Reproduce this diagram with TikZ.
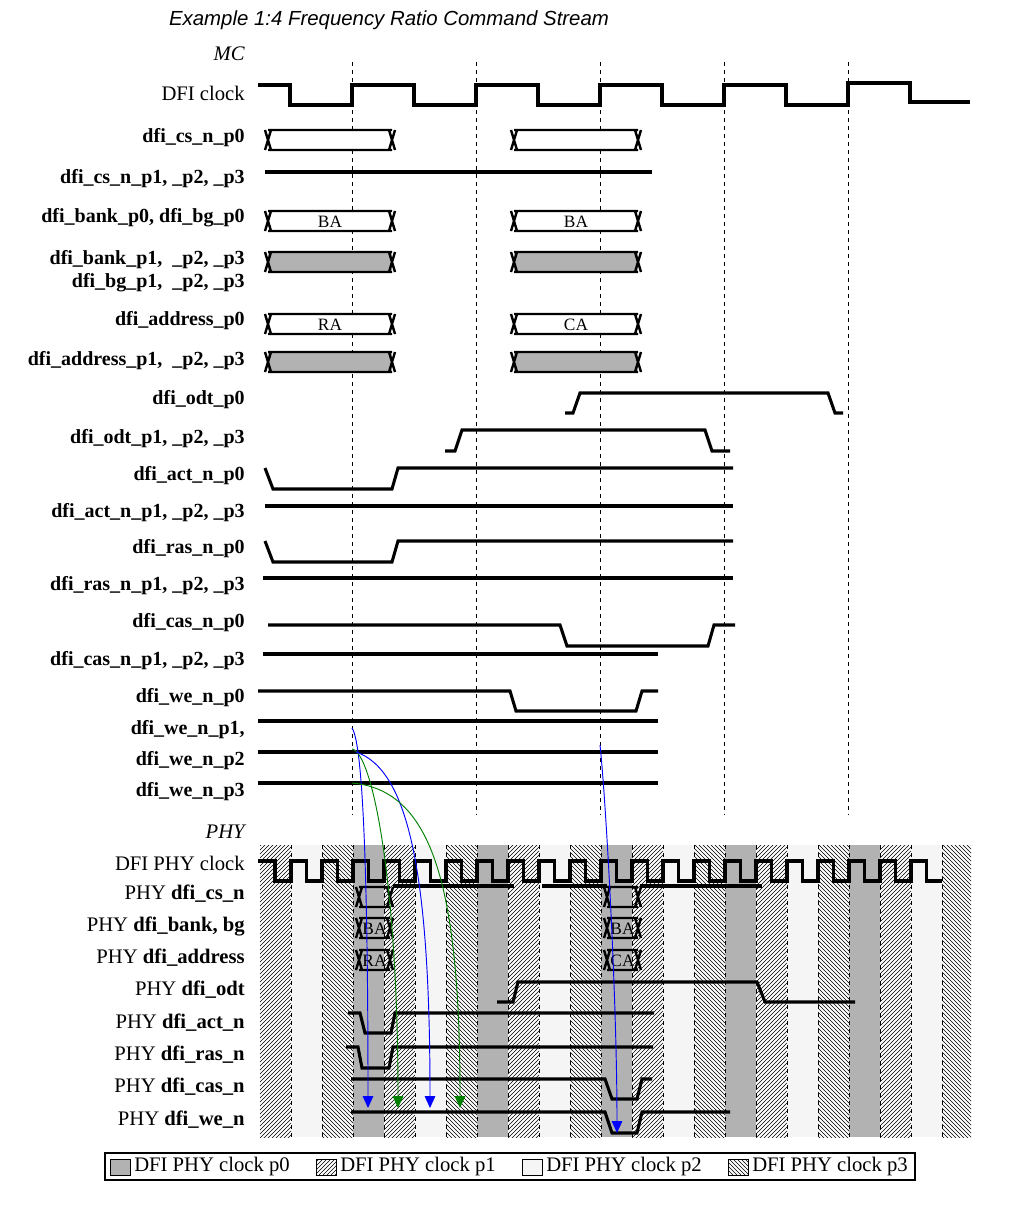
\documentclass[tikz,border=0pt]{standalone}
\usepackage{fontspec}
\setmainfont{Liberation Serif}
\newfontfamily\titlefont{Liberation Sans}
\usetikzlibrary{patterns,arrows.meta}
\tikzset{
  sig/.style={line width=2.3pt,line cap=butt,line join=miter},
  lbl/.style={anchor=east,inner sep=0pt,font=\fontsize{15}{15}\selectfont\bfseries},
  nlbl/.style={anchor=east,inner sep=0pt,font=\fontsize{15.5}{16}\selectfont},
  grid/.style={dashed,line width=0.6pt},
  flow/.style={-{Triangle[length=9pt,width=8pt]},line width=0.7pt},
}
% bus box with crossing ends: x1, x2, mid y, half height, fill, text
\newcommand{\busbox}[6]{%
  \path[fill=#5] (#1+3,#3-#4) rectangle (#2-3,#3+#4);
  \draw[line width=1.8pt] (#1+3,#3-#4) -- (#2-3,#3-#4) (#1+3,#3+#4) -- (#2-3,#3+#4)
    (#1,#3-#4) -- (#1+6,#3+#4) (#1,#3+#4) -- (#1+6,#3-#4)
    (#2-6,#3-#4) -- (#2,#3+#4) (#2-6,#3+#4) -- (#2,#3-#4);
  \node[font=\fontsize{13}{13}\selectfont,inner sep=0pt] at ({(#1+#2)/2},#3+1) {#6};}
\begin{document}
\begin{tikzpicture}[x=0.75pt,y=-0.75pt]
\useasboundingbox (0,0) rectangle (1030,1214);
% title and sections
\node[font=\titlefont\itshape\fontsize{15.3}{16}\selectfont] (title) at (389,20) {Example 1:4 Frequency Ratio Command Stream};
\node[anchor=east,font=\itshape\fontsize{15.5}{16}\selectfont,inner sep=0pt] (mc) at (245,54) {MC};
\node[anchor=east,font=\itshape\fontsize{15.5}{16}\selectfont,inner sep=0pt] (phy) at (245,832) {PHY};
% PHY phase stripes
\foreach \i in {0,...,22} {
  \pgfmathtruncatemacro{\ph}{mod(\i,4)}
  \pgfmathsetmacro{\xa}{260+31*\i}
  \pgfmathsetmacro{\xb}{min(\xa+31,971)}
  \ifnum\ph=0 \fill[pattern=north east lines] (\xa,845) rectangle (\xb,1137);\fi
  \ifnum\ph=1 \fill[black!4] (\xa,845) rectangle (\xb,1137);\fi
  \ifnum\ph=2 \fill[pattern=north west lines] (\xa,845) rectangle (\xb,1137);\fi
  \ifnum\ph=3 \fill[black!30] (\xa,845) rectangle (\xb,1137);\fi
}
\foreach \i in {1,...,22} \draw[grid] (260+31*\i,845) -- (260+31*\i,1137);
% MC clock grid
\foreach \x in {352,476,600,724,848} \draw[grid] (\x,62) -- (\x,815);
% labels
\node[nlbl] (clk) at (245,93) {DFI clock};
\node[lbl] (csp0) at (245,138) {dfi\_cs\_n\_p0};
\node[lbl] (csp1) at (245,179) {dfi\_cs\_n\_p1, \_p2, \_p3};
\node[lbl] (bkp0) at (245,218) {dfi\_bank\_p0, dfi\_bg\_p0};
\node[lbl,align=right] (bkp1) at (245,271) {dfi\_bank\_p1, \ \_p2, \_p3\\[2pt]dfi\_bg\_p1, \ \_p2, \_p3};
\node[lbl] (adp0) at (245,321) {dfi\_address\_p0};
\node[lbl] (adp1) at (245,361) {dfi\_address\_p1, \ \_p2, \_p3};
\node[lbl] (odp0) at (245,400) {dfi\_odt\_p0};
\node[lbl] (odp1) at (245,439) {dfi\_odt\_p1, \_p2, \_p3};
\node[lbl] (acp0) at (245,476) {dfi\_act\_n\_p0};
\node[lbl] (acp1) at (245,513) {dfi\_act\_n\_p1, \_p2, \_p3};
\node[lbl] (rap0) at (245,549) {dfi\_ras\_n\_p0};
\node[lbl] (rap1) at (245,586) {dfi\_ras\_n\_p1, \_p2, \_p3};
\node[lbl] (cap0) at (245,623) {dfi\_cas\_n\_p0};
\node[lbl] (cap1) at (245,661) {dfi\_cas\_n\_p1, \_p2, \_p3};
\node[lbl] (wep0) at (245,698) {dfi\_we\_n\_p0};
\node[lbl] (wep1) at (245,730) {dfi\_we\_n\_p1,};
\node[lbl] (wep2) at (245,761) {dfi\_we\_n\_p2};
\node[lbl] (wep3) at (245,792) {dfi\_we\_n\_p3};
\node[nlbl] (pclk) at (245,863) {DFI PHY clock};
\node[nlbl] (pcs) at (245,894) {PHY \textbf{dfi\_cs\_n}};
\node[nlbl] (pbk) at (245,926) {PHY \textbf{dfi\_bank, bg}};
\node[nlbl] (pad) at (245,958) {PHY \textbf{dfi\_address}};
\node[nlbl] (pod) at (245,990) {PHY \textbf{dfi\_odt}};
\node[nlbl] (pac) at (245,1023) {PHY \textbf{dfi\_act\_n}};
\node[nlbl] (pra) at (245,1055) {PHY \textbf{dfi\_ras\_n}};
\node[nlbl] (pca) at (245,1087) {PHY \textbf{dfi\_cas\_n}};
\node[nlbl] (pwe) at (245,1120) {PHY \textbf{dfi\_we\_n}};
% MC waveforms
\draw[sig] (258,85) -- (290,85) -- (290,105) -- (352,105)
  \foreach \x in {352,476,600,724} { -- (\x,85) -- (\x+62,85) -- (\x+62,105) -- (\x+124,105)}
  -- (848,83) -- (910,83) -- (910,102) -- (970,102);
\busbox{265}{395}{140}{10}{white}{}
\busbox{511}{641}{140}{10}{white}{}
\draw[sig] (265,172) -- (652,172);
\busbox{265}{395}{221}{10}{white}{BA}
\busbox{511}{641}{221}{10}{white}{BA}
\busbox{265}{395}{262}{10}{black!30}{}
\busbox{511}{641}{262}{10}{black!30}{}
\busbox{265}{395}{324}{10}{white}{RA}
\busbox{511}{641}{324}{10}{white}{CA}
\busbox{265}{395}{362}{10}{black!30}{}
\busbox{511}{641}{362}{10}{black!30}{}
\draw[sig] (565,413) -- (573,413) -- (580,393) -- (828,393) -- (835,413) -- (843,413);
\draw[sig] (445,451) -- (455,451) -- (462,430) -- (705,430) -- (712,451) -- (730,451);
\draw[sig] (265,468) -- (273,489) -- (392,489) -- (398,468) -- (733,468);
\draw[sig] (265,506) -- (733,506);
\draw[sig] (265,541) -- (273,562) -- (392,562) -- (398,541) -- (733,541);
\draw[sig] (263,578) -- (733,578);
\draw[sig] (268,625) -- (560,625) -- (567,646) -- (708,646) -- (714,625) -- (735,625);
\draw[sig] (263,654) -- (658,654);
\draw[sig] (258,691) -- (510,691) -- (516,711) -- (636,711) -- (642,691) -- (658,691);
\draw[sig] (258,721) -- (658,721);
\draw[sig] (258,752) -- (658,752);
\draw[sig] (258,783) -- (658,783);
% PHY waveforms
\draw[sig] (258,861) -- (275,861) -- (275,881) -- (291,881)
  \foreach \k in {0,...,20} { -- ++(0,-20) -- ++(15.5,0) -- ++(0,20) -- ++(15.5,0)};
\busbox{356}{393}{897}{10}{none}{}
\draw[sig] (393,886) -- (514,886) (542,886) -- (607,886) (640,886) -- (762,886);
\busbox{356}{393}{928}{10}{none}{BA}
\busbox{604}{641}{928}{10}{none}{BA}
\busbox{356}{393}{960}{10}{none}{RA}
\busbox{604}{641}{960}{10}{none}{CA}
\busbox{604}{641}{897}{10}{none}{}
\draw[sig] (497,1002) -- (513,1002) -- (518,982) -- (757,982) -- (765,1002) -- (855,1002);
\draw[sig] (348,1013) -- (360,1013) -- (365,1033) -- (391,1033) -- (395,1013) -- (654,1013);
\draw[sig] (346,1047) -- (358,1047) -- (362,1068) -- (389,1068) -- (393,1047) -- (653,1047);
\draw[sig] (351,1079) -- (605,1079) -- (612,1099) -- (637,1099) -- (642,1079) -- (652,1079);
\draw[sig] (351,1112) -- (605,1112) -- (612,1133) -- (637,1133) -- (642,1112) -- (730,1112);
% command flow
\coordinate (s1) at (352,728);  \coordinate (e1) at (368,1108);
\coordinate (s2) at (352,749);  \coordinate (e2) at (398,1108);
\coordinate (s3) at (356,752);  \coordinate (e3) at (430,1108);
\coordinate (s4) at (352,783);  \coordinate (e4) at (460,1108);
\coordinate (s5) at (600,745);  \coordinate (e5) at (617,1133);
\draw[flow,blue] (s1) .. controls (364,745) and (368,900) .. (e1);
\draw[flow,green!50!black] (s2) .. controls (372,752) and (398,880) .. (e2);
\draw[flow,blue] (s3) .. controls (410,770) and (430,880) .. (e3);
\draw[flow,green!50!black] (s4) .. controls (430,790) and (460,880) .. (e4);
\draw[flow,blue] (s5) .. controls (606,800) and (617,1000) .. (e5);
% legend
\draw[line width=0.8pt] (105,1153) rectangle (915,1180);
\foreach \xx/\st/\txt [count=\n] in {110/0/p0,316/1/p1,522/2/p2,728/3/p3} {
  \ifnum\st=0 \fill[black!30] (\xx,1159) rectangle (\xx+20,1175);\fi
  \ifnum\st=1 \fill[pattern=north east lines] (\xx,1159) rectangle (\xx+20,1175);\fi
  \ifnum\st=2 \fill[black!4] (\xx,1159) rectangle (\xx+20,1175);\fi
  \ifnum\st=3 \fill[pattern=north west lines] (\xx,1159) rectangle (\xx+20,1175);\fi
  \draw[line width=0.6pt] (\xx,1159) rectangle (\xx+20,1175);
  \node[anchor=west,inner sep=0pt,font=\fontsize{15.5}{16}\selectfont] (leg\n) at (\xx+24,1167) {DFI PHY clock \txt};
}
\end{tikzpicture}
\end{document}
